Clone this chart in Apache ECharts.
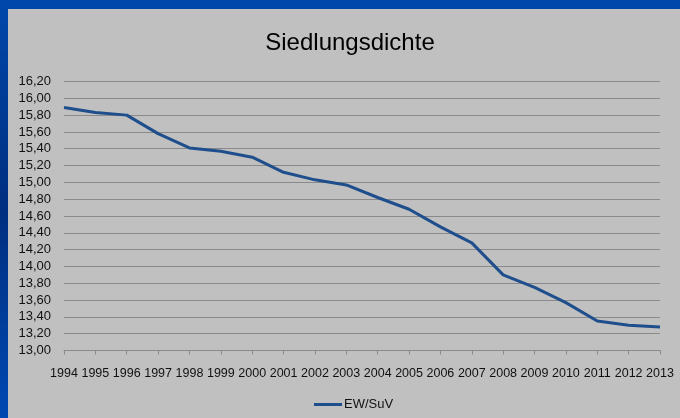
<!DOCTYPE html>
<html>
<head>
<meta charset="utf-8">
<title>Siedlungsdichte</title>
<script src="https://cdn.jsdelivr.net/npm/echarts@6/dist/echarts.min.js"></script>
<style>
  html, body { margin: 0; padding: 0; }
  #main { width: 680px; height: 418px; }
</style>
</head>
<body>
<div id="main"></div>
<script>
// Daten
var years = ['1994', '1995', '1996', '1997', '1998', '1999', '2000', '2001', '2002', '2003',
  '2004', '2005', '2006', '2007', '2008', '2009', '2010', '2011', '2012', '2013']
var ewSuv = [15.89, 15.83, 15.80, 15.58, 15.41, 15.37, 15.30, 15.12, 15.03, 14.97,
  14.82, 14.68, 14.47, 14.28, 13.90, 13.75, 13.57, 13.35, 13.30, 13.28]
var seriesName = 'EW/SuV'
var yMin = 13.0
var yMax = 16.2
var yStep = 0.2

var myChart = echarts.init(document.getElementById('main'))

var option = {
  animation: false,
  backgroundColor: {
    type: 'linear', x: 0, y: 0, x2: 0, y2: 1,
    colorStops: [
      { offset: 0, color: '#0047ab' },
      { offset: 0.5, color: '#002f80' },
      { offset: 1, color: '#0049b2' }
    ]
  },
  graphic: [
    {
      type: 'rect',
      z: -1,
      shape: { x: 8, y: 9, width: 672, height: 409 },
      style: { fill: '#c0c0c0' }
    }
  ],
  title: {
    text: 'Siedlungsdichte',
    left: 345,
    top: 26,
    textAlign: 'center',
    textStyle: {
      fontFamily: 'Liberation Sans, Arial, sans-serif',
      fontSize: 24,
      fontWeight: 'normal',
      color: '#000'
    }
  },
  legend: {
    data: [seriesName],
    left: 309,
    top: 393,
    icon: 'rect',
    itemWidth: 28,
    itemHeight: 3,
    itemGap: 10,
    textStyle: {
      fontFamily: 'Liberation Sans, Arial, sans-serif',
      fontSize: 13,
      color: '#111',
      padding: [0, 0, 0, -3]
    }
  },
  grid: {
    left: 64,
    right: 20,
    top: 81.5,
    bottom: 67.5,
    containLabel: false
  },
  xAxis: {
    type: 'category',
    data: years,
    boundaryGap: false,
    axisLine: { lineStyle: { color: '#8a8a8a', width: 1 } },
    axisTick: { show: true, length: 4, inside: false, lineStyle: { color: '#8a8a8a' } },
    axisLabel: {
      interval: 0,
      margin: 17,
      fontFamily: 'Liberation Sans, Arial, sans-serif',
      fontSize: 12.5,
      color: '#111'
    },
    splitLine: { show: false }
  },
  yAxis: {
    type: 'value',
    min: yMin,
    max: yMax,
    interval: yStep,
    axisLine: { show: false },
    axisTick: { show: false },
    axisLabel: {
      margin: 13,
      fontFamily: 'Liberation Sans, Arial, sans-serif',
      fontSize: 13,
      color: '#111',
      formatter: function (v) {
        return v.toFixed(2).replace('.', ',')
      }
    },
    splitLine: { lineStyle: { color: '#8a8a8a', width: 1 } }
  },
  series: [
    {
      name: seriesName,
      type: 'line',
      data: ewSuv,
      symbol: 'none',
      lineStyle: { color: '#1f4e8c', width: 3 },
      itemStyle: { color: '#1f4e8c' }
    }
  ]
}

myChart.setOption(option)
</script>
</body>
</html>
